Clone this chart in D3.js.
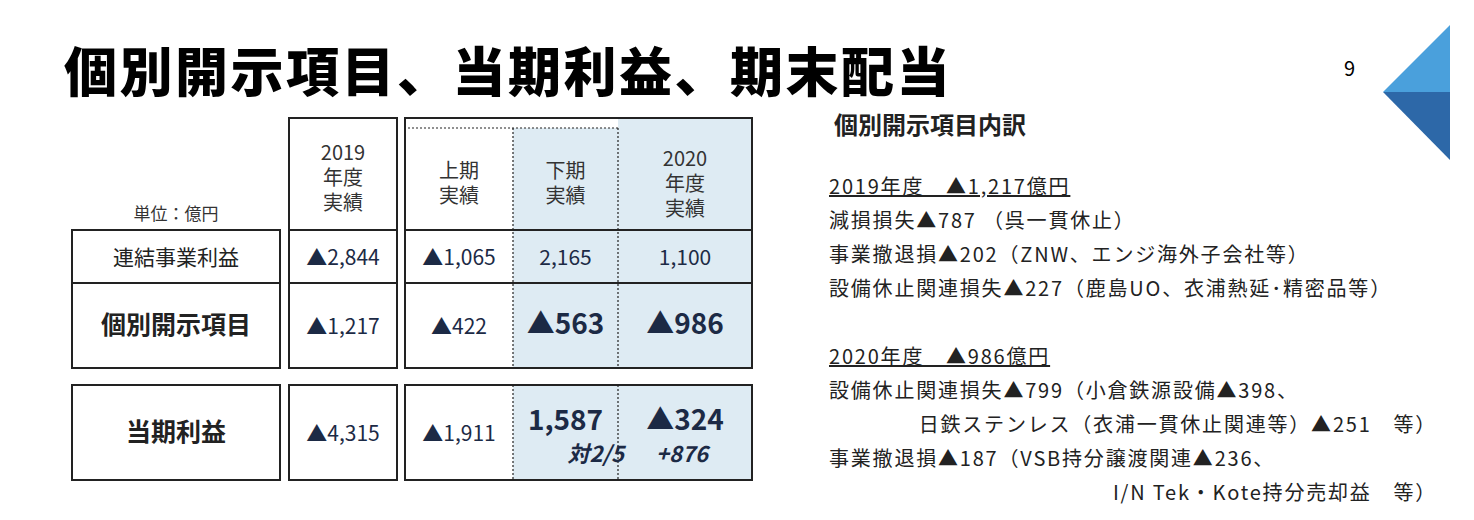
<!DOCTYPE html>
<html><head><meta charset="utf-8">
<script src="https://cdn.jsdelivr.net/npm/d3@7"></script>
<style>body{margin:0;background:#fff}text{font-family:"Noto Sans CJK JP","Noto Sans",sans-serif}</style>
</head><body><svg id="c" width="1474" height="520"></svg>
<script>
var rowLabels = ["連結事業利益", "個別開示項目", "当期利益"];
var colHeaders = [["2019", "年度", "実績"], ["上期", "実績"], ["下期", "実績"], ["2020", "年度", "実績"]];
var values = [
  ["▲2,844", "▲1,065", "2,165", "1,100"],
  ["▲1,217", "▲422", "▲563", "▲986"],
  ["▲4,315", "▲1,911", "1,587", "▲324"]
];
var subNotes = ["", "", "対2/5", "+876"];
var notes2019 = ["減損損失▲787 （呉一貫休止）", "事業撤退損▲202（ZNW、エンジ海外子会社等）", "設備休止関連損失▲227（鹿島UO、衣浦熱延･精密品等）"];
var notes2020 = ["設備休止関連損失▲799（小倉鉄源設備▲398、", "日鉄ステンレス（衣浦一貫休止関連等）▲251　等）", "事業撤退損▲187（VSB持分譲渡関連▲236、", "I/N Tek・Kote持分売却益　等）"];

var svg = d3.select("#c");
var navy = "#1c2a45";

svg.append("text").attr("x", 64).attr("y", 92).attr("font-size", 53).attr("font-weight", 900).attr("letter-spacing", 2.5).text("個別開示項目、当期利益、期末配当");
svg.append("text").attr("x", 1344).attr("y", 76).attr("font-size", 20).attr("font-family", "Arial, sans-serif").text("9");
svg.append("path").attr("d", "M1450,25L1383,92L1450,92Z").attr("fill", "#4aa0dc");
svg.append("path").attr("d", "M1383,92L1450,92L1450,160Z").attr("fill", "#2d68a8");

// column layout
var x = d3.scaleOrdinal().domain([0, 1, 2, 3]).range([289, 405, 513, 618]);
var xr = d3.scaleOrdinal().domain([0, 1, 2, 3]).range([397, 513, 618, 752]);
var rowY = [[230, 283], [283, 368], [385, 480]];

// blue fills
svg.append("rect").attr("x", 513).attr("y", 128).attr("width", 105).attr("height", 240).attr("fill", "#deebf3");
svg.append("rect").attr("x", 618).attr("y", 118).attr("width", 134).attr("height", 250).attr("fill", "#deebf3");
svg.append("rect").attr("x", 513).attr("y", 385).attr("width", 239).attr("height", 95).attr("fill", "#deebf3");

var line = function (x1, y1, x2, y2, dash, w) {
  svg.append("line").attr("x1", x1).attr("y1", y1).attr("x2", x2).attr("y2", y2)
    .attr("stroke", "#222").attr("stroke-width", w || 2).attr("stroke-dasharray", dash || null);
};
svg.append("g").selectAll("rect").data([[72, 230, 208, 138], [289, 118, 108, 250], [405, 118, 347, 250], [72, 385, 208, 95], [289, 385, 108, 95], [405, 385, 347, 95]])
  .join("rect").attr("x", d => d[0]).attr("y", d => d[1]).attr("width", d => d[2]).attr("height", d => d[3])
  .attr("fill", "none").attr("stroke", "#222").attr("stroke-width", 2);
line(72, 283, 752, 283, null, 2);
line(72, 230, 752, 230, null, 2);
svg.append("rect").attr("x", 281).attr("y", 229).attr("width", 7).attr("height", 140).attr("fill", "#fff");
svg.append("rect").attr("x", 398).attr("y", 229).attr("width", 6).attr("height", 140).attr("fill", "#fff");
line(408, 128, 618, 128, "2,2", 1.2);
line(513, 128, 513, 368, "2,2", 1.2);
line(618, 128, 618, 368, "2,2", 1.2);
line(513, 385, 513, 480, "2,2", 1.2);
line(618, 385, 618, 480, "2,2", 1.2);

svg.append("text").attr("x", 176).attr("y", 220).attr("text-anchor", "middle").attr("font-size", 17).attr("fill", "#333").text("単位：億円");

colHeaders.forEach(function (h, i) {
  var cx = (x(i) + xr(i)) / 2;
  var start = h.length === 3 ? 160 : 178;
  if (i === 3) start = 166;
  h.forEach(function (t, k) {
    svg.append("text").attr("x", cx).attr("y", start + k * 25).attr("text-anchor", "middle")
      .attr("font-size", 20).attr("fill", "#333").text(t);
  });
});

rowLabels.forEach(function (r, i) {
  var cy = (rowY[i][0] + rowY[i][1]) / 2;
  svg.append("text").attr("x", 176).attr("y", cy + 8).attr("text-anchor", "middle")
    .attr("font-size", i === 0 ? 21 : 25).attr("font-weight", i === 0 ? 400 : 700).attr("fill", "#222").text(r);
});

values.forEach(function (row, i) {
  var cy = (rowY[i][0] + rowY[i][1]) / 2;
  row.forEach(function (v, j) {
    var bold = i > 0 && j >= 2;
    var cx = (x(j) + xr(j)) / 2;
    var yy = (i === 2 && j >= 2) ? 430 : cy + 8;
    svg.append("text").attr("x", cx).attr("y", yy).attr("text-anchor", "middle")
      .attr("font-size", bold ? 28 : 21).attr("font-weight", bold ? 700 : 400).attr("fill", navy).text(v);
    if (i === 2 && subNotes[j]) {
      svg.append("text").attr("x", j === 2 ? 624 : 682).attr("y", 462).attr("text-anchor", j === 2 ? "end" : "middle")
        .attr("font-size", 22).attr("font-weight", 700).attr("font-style", "italic").attr("fill", navy).text(subNotes[j]);
    }
  });
});

svg.append("text").attr("x", 834).attr("y", 134).attr("font-size", 24).attr("font-weight", 700).attr("fill", "#222").text("個別開示項目内訳");
var fs = 20, ls = 1.8;
svg.append("text").attr("x", 829).attr("y", 194).attr("font-size", fs).attr("letter-spacing", ls).attr("fill", "#222").attr("text-decoration", "underline").text("2019年度　▲1,217億円");
notes2019.forEach(function (t, i) {
  svg.append("text").attr("x", 829).attr("y", 228 + i * 34).attr("font-size", fs).attr("letter-spacing", ls).attr("fill", "#222").text(t);
});
svg.append("text").attr("x", 829).attr("y", 364).attr("font-size", fs).attr("letter-spacing", ls).attr("fill", "#222").attr("text-decoration", "underline").text("2020年度　▲986億円");
notes2020.forEach(function (t, i) {
  var indent = i === 1 || i === 3;
  svg.append("text").attr("x", indent ? 1437 : 829).attr("y", 398 + i * 34).attr("text-anchor", indent ? "end" : "start")
    .attr("font-size", fs).attr("letter-spacing", ls).attr("fill", "#222").text(t);
});
</script></body></html>
